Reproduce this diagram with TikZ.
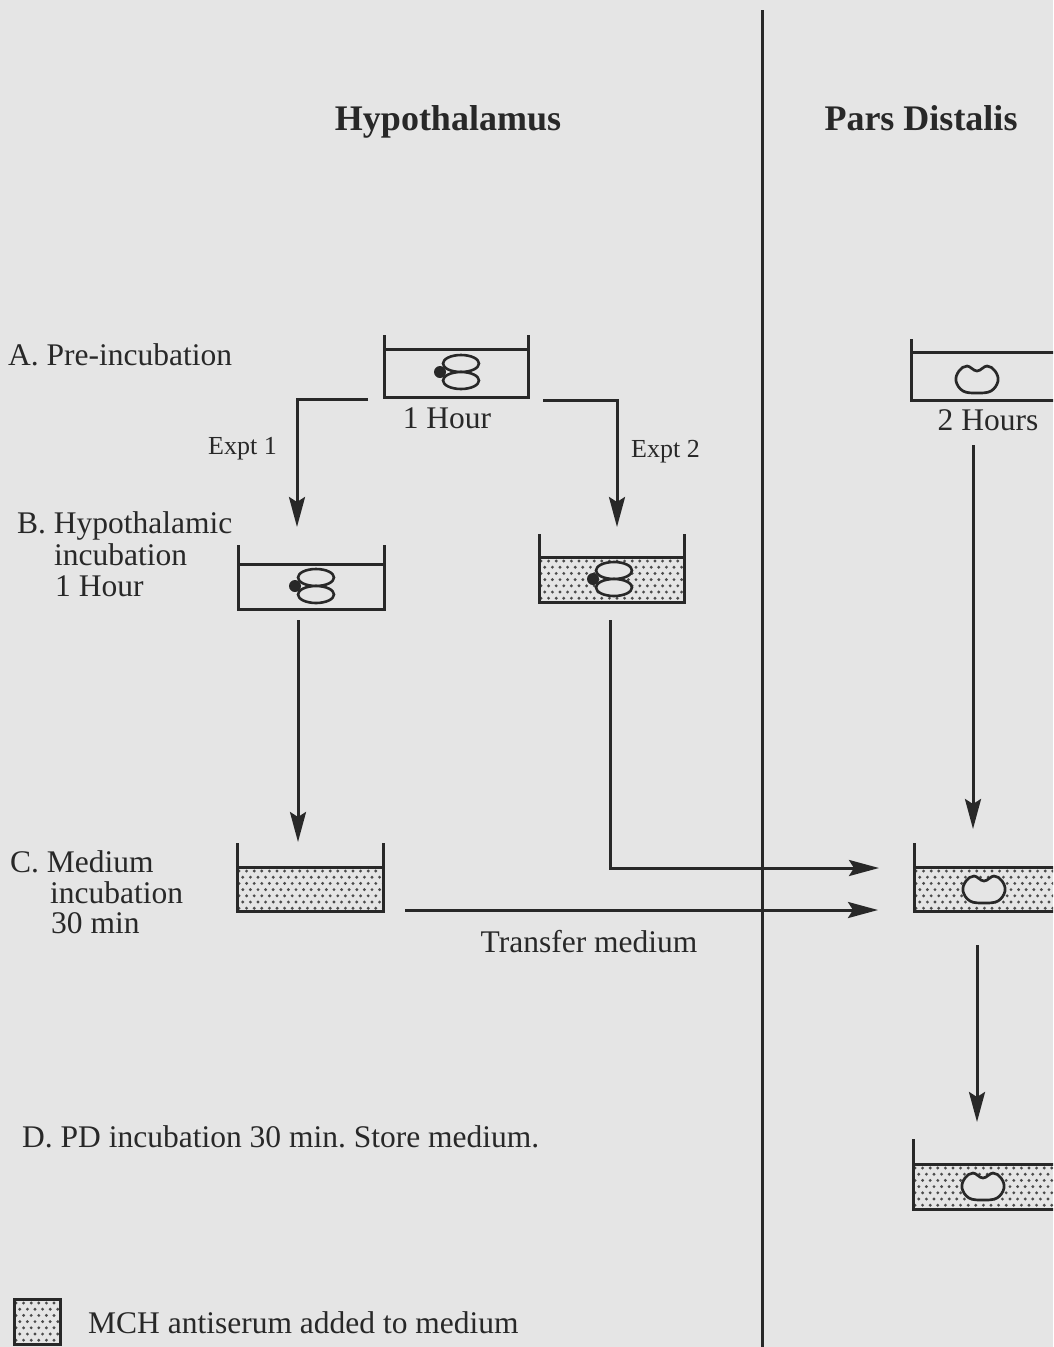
\documentclass[tikz,border=0pt]{standalone}
\usepackage{fontspec}
\setmainfont{Liberation Serif}
\usetikzlibrary{arrows.meta}
\definecolor{bg}{RGB}{229,229,229}
\definecolor{ink}{RGB}{40,40,40}
\definecolor{dotc}{RGB}{75,75,75}
\tikzset{
  wire/.style={draw=ink, line width=3pt},
  arr/.style={wire, -{Stealth[length=30pt,width=16pt,inset=5pt]}},
  vesselline/.style={draw=ink, line width=3pt},
  lbl/.style={text=ink, font=\fontsize{31.5}{31.5}\selectfont, inner sep=0pt},
  smalllbl/.style={text=ink, font=\fontsize{26}{26}\selectfont, inner sep=0pt},
  titlelbl/.style={text=ink, font=\fontsize{36}{36}\selectfont\bfseries, inner sep=0pt},
}
\frenchspacing
% left right top water bottom
\newcommand\vessel[5]{%
  \draw[vesselline] (#1,#3) -- (#1,#5) -- (#2,#5) -- (#2,#3);
  \draw[vesselline] (#1,#4) -- (#2,#4);}
% x1 y1 x2 y2
\newcommand\stipple[4]{%
  \begin{scope}
    \clip (#1,#2) rectangle (#3,#4);
    \foreach \r in {0,...,8}{\foreach \c in {0,...,22}{%
      \fill[dotc] ({#1+2+\c*7.6+mod(\r,2)*3.8},{#2+4+\r*6.2}) circle (1.6pt);}}
  \end{scope}}
% lobes centre x, junction y
\newcommand\hypo[2]{%
  \draw[ink, line width=2.6pt, fill=bg] (#1,#2-8.5) ellipse (18pt and 8.5pt);
  \draw[ink, line width=2.6pt, fill=bg] (#1,#2+8.5) ellipse (18pt and 8.5pt);
  \fill[ink] (#1-21,#2) circle (6pt);}
\newcommand\bean[2]{%
  \draw[ink, line width=2.7pt, fill=bg] plot[smooth cycle, tension=0.65] coordinates
   {(#1,#2-8) (#1-10,#2-13) (#1-18,#2-8) (#1-21,#2+2) (#1-14,#2+12) (#1,#2+14) (#1+14,#2+12) (#1+21,#2+2) (#1+18,#2-8) (#1+10,#2-13)};}
\begin{document}
\begin{tikzpicture}[x=1pt,y=-1pt]
\useasboundingbox (0,0) rectangle (1053,1347);
\fill[bg] (0,0) rectangle (1053,1347);
\clip (0,0) rectangle (1053,1347);

% divider
\coordinate (divtop) at (762,10);
\coordinate (divbot) at (762,1350);
\draw[wire] (divtop) -- (divbot);

% titles
\node[titlelbl, anchor=base] (thyp) at (448,130) {Hypothalamus};
\node[titlelbl, anchor=base] (tpd) at (921,130) {Pars Distalis};

% stage labels
\node[lbl, anchor=base west] (la) at (8,365) {A. Pre-incubation};
\node[lbl, anchor=base west] (lb1) at (17,533) {B. Hypothalamic};
\node[lbl, anchor=base west] (lb2) at (54,565) {incubation};
\node[lbl, anchor=base west] (lb3) at (55,596) {1 Hour};
\node[lbl, anchor=base west] (lc1) at (10,872) {C. Medium};
\node[lbl, anchor=base west] (lc2) at (50,903) {incubation};
\node[lbl, anchor=base west] (lc3) at (51,933) {30 min};
\node[lbl, anchor=base west] (ld) at (22,1147) {D. PD incubation 30 min. Store medium.};

% A vessels
\vessel{384}{528}{335}{349}{397}
\hypo{461}{372}
\node[lbl, anchor=base] (h1h) at (447,428) {1 Hour};
\vessel{911}{1070}{339}{352}{400}
\bean{977}{379}
\node[lbl, anchor=base] (h2h) at (988,430) {2 Hours};

% B vessels
\vessel{238}{384}{545}{564}{609}
\hypo{316}{586}
\stipple{539}{557}{684}{602}
\vessel{539}{684}{534}{557}{602}
\hypo{614}{579}

% C vessels
\stipple{237}{867}{383}{911}
\vessel{237}{383}{843}{867}{911}
\stipple{914}{867}{1070}{911}
\vessel{914}{1070}{843}{867}{911}
\bean{984}{889}

% D vessel
\stipple{913}{1164}{1070}{1209}
\vessel{913}{1070}{1139}{1164}{1209}
\bean{983}{1186}

% experiment labels
\node[smalllbl, anchor=base west] (e1) at (208,454) {Expt 1};
\node[smalllbl, anchor=base west] (e2) at (631,457) {Expt 2};

% connectors
\coordinate (a1s) at (368,399);
\coordinate (a1k) at (297,399);
\coordinate (b1in) at (297,527);
\draw[arr] (a1s) -- (a1k) -- (b1in);

\coordinate (a2s) at (543,400);
\coordinate (a2k) at (617,400);
\coordinate (b2in) at (617,527);
\draw[arr] (a2s) -- (a2k) -- (b2in);

\coordinate (b1out) at (298,620);
\coordinate (c1in) at (298,842);
\draw[arr] (b1out) -- (c1in);

\coordinate (b2out) at (610,620);
\coordinate (b2k) at (610,868);
\coordinate (cpdin1) at (879,868);
\draw[arr] (b2out) -- (b2k) -- (cpdin1);

\coordinate (c1out) at (405,910);
\coordinate (cpdin2) at (878,910);
\draw[arr] (c1out) -- (cpdin2);
\node[lbl, anchor=base] (tm) at (589,952) {Transfer medium};

\coordinate (apdout) at (973,445);
\coordinate (cpdtop) at (973,829);
\draw[arr] (apdout) -- (cpdtop);

\coordinate (cpdout) at (977,945);
\coordinate (dpdtop) at (977,1122);
\draw[arr] (cpdout) -- (dpdtop);

% legend
\stipple{14}{1299}{60}{1344}
\draw[ink, line width=3pt] (14,1299) rectangle (60,1344);
\node[lbl, anchor=base west] (leg) at (88,1333) {MCH antiserum added to medium};
\end{tikzpicture}
\end{document}
